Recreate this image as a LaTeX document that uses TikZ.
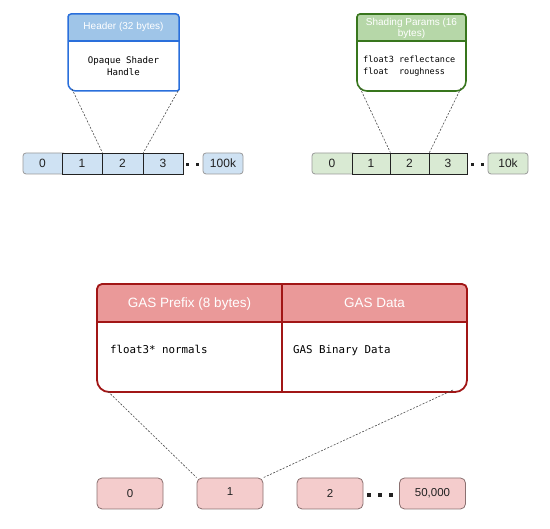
\documentclass[tikz,border=0pt]{standalone}
\usepackage{fontspec}
\setmainfont{Liberation Sans}
\setmonofont{DejaVu Sans Mono}
\definecolor{bhead}{HTML}{9FC5E8}
\definecolor{bline}{HTML}{2A6FDB}
\definecolor{bcell}{HTML}{CFE2F3}
\definecolor{ghead}{HTML}{B6D7A8}
\definecolor{gline}{HTML}{38761D}
\definecolor{gcell}{HTML}{D9EAD3}
\definecolor{rhead}{HTML}{EA9999}
\definecolor{rline}{HTML}{A11616}
\definecolor{rcell}{HTML}{F4CCCC}
\definecolor{rbox}{HTML}{8A7070}
\definecolor{softgrey}{HTML}{9A9A9A}
\definecolor{celltext}{HTML}{222222}
\begin{document}
\begin{tikzpicture}[x=1pt,y=1pt,
  cellbox/.style={draw=celltext, line width=0.8pt, minimum height=21pt, inner sep=0pt,
    font=\fontsize{12}{12}\selectfont, text=celltext},
  endbox/.style={draw=softgrey, line width=0.8pt, rounded corners=3pt, minimum width=40pt,
    minimum height=21pt, inner sep=0pt, font=\fontsize{12}{12}\selectfont, text=celltext},
  celltxt/.style={inner sep=0pt, font=\fontsize{12}{12}\selectfont, text=celltext},
  dotsq/.style={fill=celltext, minimum width=3.2pt, minimum height=3.2pt, inner sep=0pt},
  headtxt/.style={inner sep=0pt, text=white, align=center},
  monotxt/.style={inner sep=0pt, font=\ttfamily, text=black},
  connector/.style={draw=black!70, line width=0.6pt, dash pattern=on 2pt off 1.5pt},
  gasbox/.style={draw=rbox, fill=rcell, line width=0.8pt, rounded corners=5pt, minimum width=66pt,
    minimum height=31pt, inner sep=0pt, font=\fontsize{11.5}{11.5}\selectfont, text=celltext},
]
\useasboundingbox (0,0) rectangle (550,529);

% ---------- Blue header box ----------
\fill[bhead] (68,488) -- (68,512) arc[start angle=180,end angle=90,radius=3] -- (176,515)
  arc[start angle=90,end angle=0,radius=3] -- (179,488) -- cycle;
\draw[bline, line width=1.5pt] (68,488) -- (179,488);
\draw[bline, line width=1.5pt] (68,446) -- (68,512) arc[start angle=180,end angle=90,radius=3]
  -- (176,515) arc[start angle=90,end angle=0,radius=3] -- (179,439.5)
  arc[start angle=0,end angle=-90,radius=1.5] -- (76,438)
  arc[start angle=270,end angle=180,radius=8] -- cycle;
\node[headtxt, font=\fontsize{10}{11}\selectfont] (bhtxt) at (123.5,502) {Header (32 bytes)};
\node[monotxt, align=center, font=\ttfamily\fontsize{9.1}{11.5}\selectfont] (bbtxt) at (123.5,463)
  {Opaque Shader\\Handle};
\coordinate (bbl) at (72,440);
\coordinate (bbr) at (178,438);

% ---------- Blue array ----------
\draw[fill=bcell, draw=softgrey, line width=0.8pt, rounded corners=3pt] (23,355) rectangle (66,376);
\node[celltxt] (c0) at (42.5,365.5) {0};
\node[cellbox, fill=bcell, minimum width=40pt] (c1) at (82,365.5) {1};
\node[cellbox, fill=bcell, minimum width=41pt] (c2) at (122.5,365.5) {2};
\node[cellbox, fill=bcell, minimum width=40pt] (c3) at (163,365.5) {3};
\node[dotsq] (cd1) at (187.5,364.5) {};
\node[dotsq] (cd2) at (197.5,364.5) {};
\node[endbox, fill=bcell] (c4) at (223,365.5) {100k};
\draw[connector] (bbl) -- (c1.north east);
\draw[connector] (bbr) -- (c2.north east);

% ---------- Green header box ----------
\fill[ghead] (357,488) -- (357,512) arc[start angle=180,end angle=90,radius=3] -- (463,515)
  arc[start angle=90,end angle=0,radius=3] -- (466,488) -- cycle;
\draw[gline, line width=1.6pt] (357,488) -- (466,488);
\draw[gline, line width=1.6pt] (357,448) -- (357,512) arc[start angle=180,end angle=90,radius=3]
  -- (463,515) arc[start angle=90,end angle=0,radius=3] -- (466,448)
  arc[start angle=0,end angle=-90,radius=10] -- (367,438)
  arc[start angle=270,end angle=180,radius=10] -- cycle;
\node[headtxt, font=\fontsize{10}{11.5}\selectfont] (ghtxt) at (411.5,500.5) {Shading Params (16\\bytes)};
\node[monotxt, align=left, anchor=west, font=\ttfamily\fontsize{8.5}{12}\selectfont] (gbtxt) at (363,463)
  {float3 reflectance\\float~~roughness};
\coordinate (gbl) at (360,441);
\coordinate (gbr) at (461,441);

% ---------- Green array ----------
\draw[fill=gcell, draw=softgrey, line width=0.8pt, rounded corners=3pt] (312,355) rectangle (356,376);
\node[celltxt] (g0) at (332,365.5) {0};
\node[cellbox, fill=gcell, minimum width=38pt] (g1) at (371,365.5) {1};
\node[cellbox, fill=gcell, minimum width=39pt] (g2) at (409.5,365.5) {2};
\node[cellbox, fill=gcell, minimum width=38pt] (g3) at (448,365.5) {3};
\node[dotsq] (gd1) at (472.5,364.5) {};
\node[dotsq] (gd2) at (482.5,364.5) {};
\node[endbox, fill=gcell] (g4) at (508,365.5) {10k};
\draw[connector] (gbl) -- (g1.north east);
\draw[connector] (gbr) -- (g2.north east);

% ---------- Red GAS box ----------
\fill[rhead] (97,207) -- (97,240) arc[start angle=180,end angle=90,radius=5] -- (462,245)
  arc[start angle=90,end angle=0,radius=5] -- (467,207) -- cycle;
\draw[rline, line width=1.8pt] (97,207) -- (467,207);
\draw[rline, line width=1.8pt] (282,245) -- (282,137);
\draw[rline, line width=1.8pt] (97,149) -- (97,240) arc[start angle=180,end angle=90,radius=5]
  -- (462,245) arc[start angle=90,end angle=0,radius=5] -- (467,149)
  arc[start angle=0,end angle=-90,radius=12] -- (109,137)
  arc[start angle=270,end angle=180,radius=12] -- cycle;
\node[headtxt, anchor=base, font=\fontsize{13.5}{14}\selectfont] (rh1) at (189.5,221.5) {GAS Prefix (8 bytes)};
\node[headtxt, anchor=base, font=\fontsize{13.5}{14}\selectfont] (rh2) at (374.5,221.5) {GAS Data};
\node[monotxt, anchor=base west, font=\ttfamily\fontsize{10.8}{12}\selectfont] (rb1) at (110,175.5) {float3* normals};
\node[monotxt, anchor=base west, font=\ttfamily\fontsize{10.8}{12}\selectfont] (rb2) at (293,175.5) {GAS Binary Data};
\coordinate (rbl) at (108,137.5);
\coordinate (rbr) at (453,139);

% ---------- Red array ----------
\node[gasbox] (b0) at (130,35.5) {0};
\node[gasbox] (b1) at (230,35.5) {\raisebox{3pt}{1}};
\node[gasbox] (b2) at (330,35.5) {2};
\node[dotsq] (bd1) at (369,34) {};
\node[dotsq] (bd2) at (380,34) {};
\node[dotsq] (bd3) at (391,34) {};
\node[gasbox] (b3) at (432.5,35.5) {50,000};
\draw[connector] (rbl) -- (b1.north west);
\draw[connector] (rbr) -- (b1.north east);
\end{tikzpicture}
\end{document}
